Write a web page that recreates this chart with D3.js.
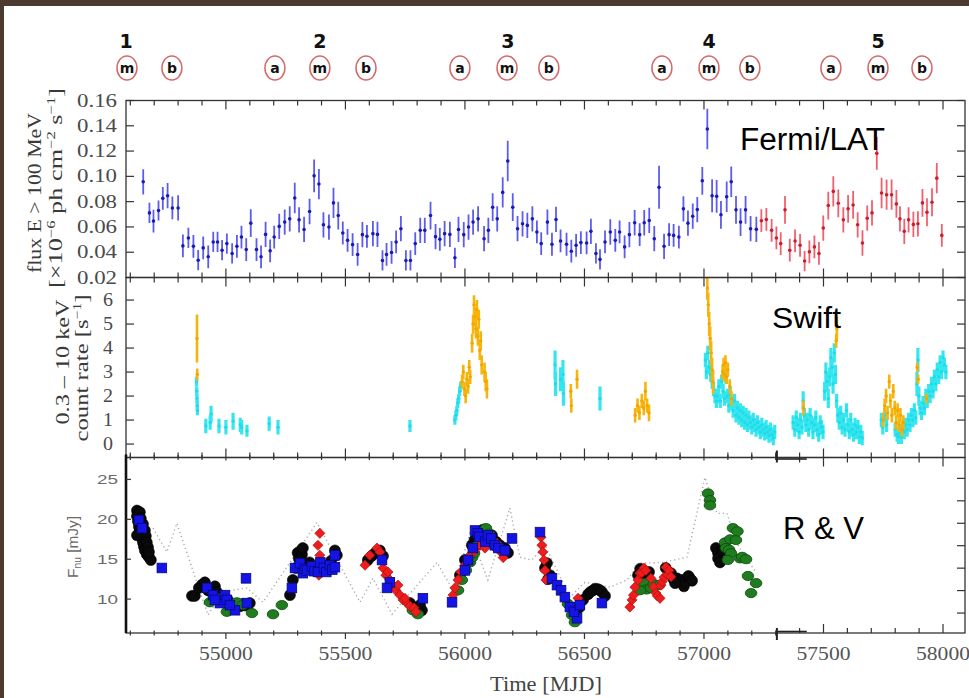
<!DOCTYPE html>
<html><head><meta charset="utf-8">
<script src="https://cdn.jsdelivr.net/npm/d3@7"></script>
<style>body{margin:0;background:#fff;} svg{display:block;}</style>
</head><body><svg id="c" width="969" height="698"></svg>
<script>
// ---------------- DATA ----------------
const epochs = [["1",54582],["2",55393],["3",56180],["4",57021],["5",57728]];
const phases = [["m",54586],["b",54774],["a",55205],["m",55393],["b",55586],["a",55979],["m",56176],["b",56351],["a",56824],["m",57021],["b",57192],["a",57531],["m",57728],["b",57912]];

const xTickLabels = [55000,55500,56000,56500,57000,57500,58000];
const fermiTicks = [0.02,0.04,0.06,0.08,0.10,0.12,0.14,0.16];
const swiftTicks = [0,1,2,3,4,5,6];
const optTicks = [10,15,20,25];
const optRightTicks = [1,2,3,4,5,6,7];

// Fermi/LAT flux [MJD, flux, err]
const fermiBlue = [
[54654,0.0957,0.010],[54680,0.0711,0.008],[54697,0.0646,0.009],[54718,0.0730,0.008],[54736,0.0826,0.009],
[54756,0.0847,0.010],[54776,0.0750,0.009],[54800,0.0750,0.010],[54820,0.0450,0.009],[54843,0.0513,0.008],
[54864,0.0447,0.009],[54884,0.0337,0.008],[54905,0.0434,0.009],[54926,0.0364,0.009],[54947,0.0481,0.008],
[54965,0.0481,0.008],[54984,0.0416,0.008],[55004,0.0468,0.008],[55026,0.0390,0.008],[55046,0.0447,0.009],
[55065,0.0520,0.009],[55085,0.0421,0.009],[55104,0.0630,0.011],[55128,0.0421,0.009],[55147,0.0364,0.009],
[55166,0.0541,0.010],[55185,0.0411,0.009],[55202,0.0520,0.009],[55223,0.0604,0.010],[55246,0.0638,0.010],
[55267,0.0664,0.010],[55288,0.0829,0.012],[55306,0.0656,0.010],[55327,0.0580,0.010],[55350,0.0722,0.010],
[55369,0.1004,0.013],[55389,0.0939,0.012],[55408,0.0617,0.010],[55431,0.0599,0.010],[55450,0.0790,0.012],
[55470,0.0690,0.011],[55489,0.0552,0.009],[55509,0.0494,0.009],[55530,0.0460,0.009],[55551,0.0382,0.009],
[55571,0.0539,0.010],[55590,0.0526,0.009],[55615,0.0547,0.010],[55634,0.0541,0.010],[55655,0.0335,0.008],
[55672,0.0382,0.009],[55693,0.0398,0.009],[55712,0.0481,0.009],[55732,0.0586,0.010],[55753,0.0335,0.008],
[55772,0.0335,0.008],[55792,0.0468,0.009],[55813,0.0573,0.010],[55832,0.0573,0.010],[55856,0.0690,0.011],
[55877,0.0523,0.010],[55895,0.0502,0.009],[55915,0.0547,0.010],[55937,0.0541,0.010],[55958,0.0356,0.008],
[55973,0.0580,0.010],[55995,0.0539,0.010],[56015,0.0599,0.010],[56034,0.0638,0.010],[56055,0.0664,0.010],
[56080,0.0507,0.010],[56098,0.0573,0.010],[56116,0.0756,0.011],[56135,0.0664,0.010],[56158,0.0873,0.012],
[56179,0.1122,0.016],[56200,0.0756,0.011],[56220,0.0586,0.010],[56241,0.0625,0.010],[56261,0.0612,0.010],
[56282,0.0664,0.010],[56301,0.0560,0.009],[56319,0.0468,0.009],[56345,0.0638,0.010],[56364,0.0463,0.009],
[56381,0.0659,0.010],[56400,0.0489,0.009],[56425,0.0463,0.009],[56445,0.0408,0.009],[56465,0.0455,0.009],
[56485,0.0476,0.009],[56509,0.0473,0.009],[56527,0.0565,0.010],[56548,0.0390,0.008],[56565,0.0343,0.008],
[56586,0.0481,0.009],[56608,0.0560,0.010],[56629,0.0494,0.009],[56647,0.0560,0.009],[56668,0.0442,0.009],
[56688,0.0539,0.010],[56710,0.0633,0.010],[56731,0.0539,0.009],[56750,0.0633,0.010],[56771,0.0651,0.010],
[56792,0.0507,0.010],[56812,0.0913,0.017],[56833,0.0447,0.010],[56854,0.0539,0.009],[56873,0.0533,0.009],
[56895,0.0520,0.009],[56914,0.0743,0.010],[56933,0.0630,0.010],[56953,0.0685,0.010],[56972,0.0737,0.010],
[56993,0.0965,0.011],[57014,0.1375,0.016],[57034,0.0847,0.013],[57053,0.0842,0.013],[57071,0.0696,0.011],
[57095,0.0839,0.012],[57114,0.0957,0.012],[57134,0.0735,0.011],[57153,0.0638,0.011],[57174,0.0735,0.011],
[57195,0.0586,0.010],[57219,0.0581,0.010]
];
const fermiRed = [
[57240,0.0649,0.009],[57261,0.0659,0.009],[57283,0.0573,0.009],[57303,0.0513,0.009],[57321,0.0468,0.009],
[57339,0.0735,0.011],[57359,0.0416,0.009],[57381,0.0489,0.009],[57402,0.0455,0.009],[57421,0.0330,0.008],
[57441,0.0403,0.009],[57462,0.0442,0.009],[57481,0.0390,0.009],[57499,0.0591,0.010],[57520,0.0769,0.011],
[57541,0.0881,0.012],[57562,0.0787,0.011],[57583,0.0656,0.010],[57603,0.0743,0.011],[57624,0.0774,0.011],
[57643,0.0617,0.010],[57663,0.0473,0.010],[57683,0.0669,0.010],[57703,0.0711,0.010],[57723,0.1182,0.013],
[57743,0.0868,0.012],[57764,0.0855,0.012],[57785,0.0855,0.012],[57805,0.0782,0.011],[57820,0.0664,0.010],
[57838,0.0565,0.010],[57856,0.0656,0.010],[57876,0.0620,0.010],[57895,0.0625,0.010],[57914,0.0790,0.011],
[57933,0.0716,0.011],[57954,0.0795,0.011],[57974,0.0986,0.012],[57995,0.0533,0.009]
];

// Swift XRT count rate [MJD, rate, err]
const swiftCyan = [
[54877,2.6,0.2],[54878,2.2,0.2],[54879,1.9,0.2],[54880,1.6,0.2],[54881,1.4,0.2],
[54916,0.75,0.3],[54934,0.9,0.3],[54938,1.25,0.35],[54971,0.75,0.3],[55000,0.7,0.3],[55030,0.95,0.35],
[55060,0.8,0.3],[55066,0.7,0.3],[55088,0.55,0.25],[55181,0.85,0.3],[55218,0.7,0.3],[55770,0.75,0.25],
[55958,1.0,0.2],[55962,1.2,0.2],[55966,1.4,0.2],[55970,1.7,0.2],[55974,1.9,0.2],[55978,2.2,0.2],[55982,2.4,0.2],
[56377,3.3,0.6],[56379,2.5,0.5],[56400,2.7,0.5],[56410,2.9,0.6],[56412,2.1,0.5],[56565,1.9,0.5],
[57006,3.5,0.3],[57010,3.0,0.3],[57016,3.8,0.3],[57022,3.2,0.3],[57028,2.9,0.3],[57034,2.6,0.3],[57040,2.3,0.3],
[57046,2.0,0.3],[57052,1.8,0.3],[57056,2.0,0.3],[57062,2.4,0.3],[57068,1.8,0.3],[57074,2.6,0.3],[57080,2.2,0.3],
[57086,1.9,0.3],[57092,2.8,0.3],[57098,2.0,0.3],[57104,1.6,0.3],[57110,2.1,0.3],[57116,1.7,0.3],[57122,1.4,0.3],
[57128,1.8,0.3],[57134,1.2,0.3],[57140,1.5,0.3],[57146,1.1,0.3],[57152,1.4,0.3],[57158,1.0,0.3],[57164,1.3,0.3],
[57170,0.9,0.3],[57176,1.2,0.3],[57182,0.8,0.3],[57188,1.1,0.3],[57194,0.9,0.3],[57200,0.7,0.3],[57206,1.0,0.3],
[57212,0.8,0.3],[57218,0.6,0.3],[57224,0.9,0.3],[57230,0.7,0.3],[57236,0.5,0.3],[57242,0.8,0.3],[57248,0.6,0.3],
[57254,0.45,0.3],[57260,0.7,0.3],[57266,0.5,0.3],[57272,0.35,0.3],[57278,0.6,0.3],[57284,0.4,0.3],[57290,0.25,0.3],
[57296,0.5,0.3],
[57373,0.9,0.3],[57380,0.6,0.3],[57386,1.1,0.3],[57392,0.8,0.3],[57398,0.5,0.3],[57404,1.0,0.3],[57410,0.7,0.3],
[57415,1.8,0.4],[57420,1.2,0.3],[57426,0.8,0.3],[57432,1.0,0.3],[57438,0.6,0.3],[57444,1.2,0.3],[57450,0.9,0.3],
[57456,0.5,0.3],[57462,0.8,0.3],[57468,1.1,0.3],[57474,0.6,0.3],[57480,0.4,0.3],[57486,0.9,0.3],[57492,0.7,0.3],
[57498,0.5,0.3],[57505,2.2,0.4],[57510,3.0,0.4],[57515,2.6,0.4],[57520,1.9,0.4],[57526,2.8,0.4],[57531,3.6,0.4],
[57536,3.2,0.4],[57540,2.5,0.4],[57545,3.8,0.4],[57550,2.9,0.4],[57555,1.8,0.3],[57560,1.2,0.3],[57566,0.9,0.3],
[57572,1.3,0.3],[57578,0.7,0.3],[57584,1.0,0.3],[57590,0.6,0.3],[57596,1.4,0.3],[57602,0.8,0.3],[57608,0.5,0.3],
[57614,1.0,0.3],[57620,0.6,0.3],[57626,0.4,0.3],[57632,0.8,0.3],[57638,0.5,0.3],[57644,0.7,0.3],[57650,0.3,0.3],
[57656,0.5,0.3],[57662,0.25,0.3],
[57742,1.0,0.3],[57748,0.7,0.3],[57756,1.2,0.3],[57764,0.8,0.3],[57800,0.6,0.3],[57808,0.4,0.3],[57814,0.3,0.3],
[57820,0.5,0.3],[57826,0.3,0.3],[57832,0.6,0.3],[57838,0.5,0.3],[57844,0.8,0.3],[57850,0.6,0.3],[57856,1.0,0.3],
[57862,0.8,0.3],[57868,1.2,0.3],[57874,1.0,0.3],[57880,1.4,0.3],[57886,1.1,0.3],[57891,2.5,0.5],[57895,3.5,0.5],
[57899,2.0,0.4],[57904,1.5,0.3],[57910,1.3,0.3],[57916,1.7,0.3],[57922,1.5,0.3],[57928,2.0,0.3],[57934,1.8,0.3],
[57940,2.2,0.3],[57946,2.0,0.3],[57952,2.5,0.3],[57958,2.2,0.3],[57964,2.8,0.3],[57970,2.5,0.3],[57976,3.1,0.3],
[57982,2.8,0.3],[57988,3.4,0.3],[57994,3.0,0.3],[58000,3.6,0.3],[58006,3.3,0.3],[58012,3.0,0.3]
];
const swiftOrange = [
[54879,4.4,1.0],[54880,2.9,0.25],
[55988,2.6,0.3],[55993,3.0,0.3],[55998,2.3,0.3],[56003,2.0,0.3],[56008,2.7,0.3],[56013,2.4,0.3],[56018,3.2,0.3],
[56022,2.8,0.3],[56030,4.2,0.4],[56034,5.0,0.4],[56038,5.8,0.4],[56042,5.3,0.4],[56046,4.8,0.4],[56050,5.6,0.4],
[56054,4.5,0.4],[56058,5.2,0.4],[56062,3.9,0.4],[56066,4.3,0.4],[56070,3.3,0.4],[56082,3.0,0.4],[56087,2.6,0.4],
[56092,2.3,0.4],
[56443,2.2,0.3],[56445,1.6,0.3],[56469,2.7,0.4],
[56712,1.2,0.3],[56722,1.6,0.3],[56730,1.3,0.3],[56740,1.8,0.3],[56748,1.5,0.3],[56755,2.2,0.4],[56762,1.6,0.3],
[56770,1.3,0.35],
[57010,7.5,0.6],[57014,6.5,0.5],[57018,5.8,0.5],[57022,5.0,0.5],[57026,4.4,0.5],[57030,3.8,0.5],[57034,3.1,0.5],
[57038,2.6,0.5],
[57078,3.0,0.3],[57082,3.3,0.3],[57086,2.9,0.3],[57090,3.4,0.3],[57095,2.8,0.3],[57100,3.1,0.3],[57108,2.4,0.3],
[57115,1.9,0.3],
[57416,1.5,0.3],[57553,4.3,0.3],[57556,4.8,0.5],
[57750,1.0,0.3],[57756,1.6,0.3],[57762,2.0,0.3],[57768,1.3,0.3],[57775,2.6,0.3],[57780,1.8,0.3],[57786,1.2,0.3],
[57792,2.2,0.3],[57798,1.5,0.3],[57804,0.9,0.3],[57810,1.4,0.3],[57816,0.8,0.3],[57822,1.2,0.3],[57828,0.6,0.3],
[57834,0.9,0.3],[57892,3.2,0.2],[57896,2.7,0.2],[57931,1.9,0.2]
];

// Optical R & V flux density [MJD, mJy]
const rvBlack = [
[54628,21.1],[54628,20.4],[54632,19.75],[54636,19.1],[54640,18.6],[54644,18.1],[54649,17.6],[54653,17.1],
[54657,16.6],[54661,16.1],[54669,15.6],[54678,15.25],[54686,14.9],[54640,20.9],[54644,20.1],[54653,19.4],
[54661,18.6],[54665,17.9],[54669,17.1],[54674,16.5],[54678,15.9],[54628,18.0],
[54858,10.4],[54870,10.4],[54887,11.4],[54900,11.8],[54912,12.1],[54925,11.1],[54935,11.0],[54954,11.6],
[54962,10.9],[54979,10.4],[54990,10.0],[55008,9.9],[55025,9.25],[55040,9.3],[55059,9.1],[55071,9.4],
[55080,9.2],[55100,9.5],
[55268,10.5],[55280,12.4],[55293,13.9],[55300,15.8],[55305,15.1],[55314,16.1],[55318,15.6],[55322,16.4],
[55310,14.9],[55330,14.2],[55350,14.6],[55400,14.2],[55440,14.8],[55456,16.1],[55464,15.5],
[55594,14.9],[55610,15.4],[55623,15.75],[55635,15.9],[55644,16.1],[55657,15.4],[55770,9.5],[55791,8.9],
[55800,8.8],[55820,8.6],[55812,9.25],
[55979,13.0],[56000,14.9],[56029,16.75],[56040,17.4],[56063,18.4],[56075,18.7],[56092,18.4],[56100,17.8],
[56113,18.0],[56130,17.2],[56146,16.75],[56160,16.0],[56167,16.4],[56180,15.8],
[56335,13.9],[56343,14.5],[56348,12.5],[56356,13.0],[56494,9.9],[56515,10.6],[56525,10.9],[56536,11.1],
[56545,11.3],[56556,11.25],[56565,11.1],[56573,10.9],[56586,10.4],[56477,8.9],
[56724,13.0],[56733,13.8],[56745,13.6],[56760,13.0],[56770,13.4],[56840,13.9],[56862,13.25],[56870,12.6],
[56887,12.6],[56895,12.2],[56908,12.4],[56925,12.4],[56935,12.9],[56941,12.6],[56950,12.3],[56916,11.6],
[56879,12.0],
[57050,16.4],[57059,15.75],[57059,15.1],[57067,14.6],[57080,16.1]
];
const rvGreen = [
[54933,9.6],[55004,8.4],[55046,9.6],[55109,8.25],[55197,8.1],[55234,9.25],[55071,9.25],[54967,10.1],
[55782,8.6],[55803,8.1],
[55971,11.1],[55987,12.4],[56004,13.6],[56021,14.6],[56030,15.2],[56038,15.75],[56054,16.75],[56062,17.0],
[56071,17.6],[56088,18.9],[56100,18.2],[56113,17.0],[56130,16.8],[56146,16.4],
[56460,7.1],[56448,8.0],[56431,9.4],
[56749,12.0],[56760,11.2],[56778,11.4],[56790,11.9],[56732,11.1],[56812,11.75],
[57017,23.25],[57025,22.4],[57025,21.75],[57088,17.1],[57092,16.4],[57105,16.2],[57110,17.5],[57121,18.9],
[57134,17.4],[57140,18.5],[57113,15.75],[57151,15.1],[57160,15.3],[57176,15.0],[57184,12.9],[57218,12.0],
[57197,10.75],[57100,14.9]
];
const rvRed = [
[55393,18.25],[55385,16.75],[55393,15.5],[55402,14.6],[55377,14.25],[55418,14.0],[55389,13.0],
[55582,14.25],[55602,15.5],[55632,16.4],[55644,15.9],[55657,13.9],[55669,13.0],[55686,12.4],[55699,11.75],
[55711,11.1],[55728,10.5],[55741,9.9],[55757,9.5],[55770,9.1],[55787,8.9],[55795,8.4],[55678,13.4],[55720,11.75],
[55749,10.1],
[55950,10.5],[55958,11.4],[55971,12.4],[55983,13.4],[56000,14.25],[56021,15.5],[56040,16.0],[56063,16.75],
[56084,16.4],[56095,17.9],[56105,17.4],[56120,16.6],[56134,17.0],[56145,16.3],[56155,15.75],[56160,15.2],
[56318,17.75],[56322,16.75],[56326,15.9],[56331,14.9],[56335,13.6],[56339,12.4],[56481,9.5],[56473,10.1],
[56690,9.0],[56699,9.9],[56705,10.5],[56711,11.5],[56724,12.4],[56732,13.25],[56740,13.3],[56749,13.9],
[56757,13.6],[56778,12.6],[56790,11.5],[56799,10.75],[56805,10.4],[56816,10.1],[56820,11.75],[56825,12.2],
[56833,12.75],[56841,14.0],[56848,13.0],[56854,13.6],[56862,12.8]
];
const rvBlue = [
[54636,19.9],[54649,18.9],[54732,13.9],
[54921,11.4],[54946,10.5],[54975,9.5],[54996,10.5],[55004,9.9],[55038,8.6],[55084,12.6],[55088,9.5],[54954,9.9],[55017,9.25],
[55276,11.4],[55289,13.9],[55310,14.5],[55322,13.25],[55330,13.8],[55339,13.6],[55360,14.1],[55370,13.5],
[55385,13.4],[55395,14.6],[55410,13.9],[55420,13.4],[55435,14.25],[55445,13.7],[55456,15.5],[55456,14.0],
[55653,14.9],[55686,12.1],[55674,11.4],[55824,10.1],
[55946,9.6],[56000,13.6],[56013,14.9],[56033,16.4],[56042,18.6],[56054,18.25],[56060,17.8],[56085,17.2],
[56096,18.0],[56110,17.6],[56125,16.75],[56140,16.4],[56167,16.1],[56197,17.6],
[56314,18.4],[56364,12.6],[56385,11.75],[56402,11.1],[56418,10.25],[56439,9.0],[56469,7.6],[56456,8.4],
[56481,9.25],[56573,9.5]
];
const rvModel = [
[54695,18.9],[54753,15.9],[54795,19.5],[54925,8.0],[54987,10.9],[55088,11.4],[55155,9.6],[55381,19.6],
[55561,9.6],[55615,12.6],[55695,8.1],[55883,14.6],[55950,11.1],[56021,18.25],[56096,12.4],[56188,21.4],
[56230,15.25],[56280,14.9],[56335,16.75],[56439,10.25],[56502,12.1],[56607,11.5],[56678,12.4],[56732,14.5],
[56828,14.6],[56929,15.25],[57004,25.25],[57054,20.75],[57096,20.75],[57138,17.0],[57180,14.9],[57222,13.25]
];

// ---------------- LAYOUT ----------------
const L = 126, R = 965;
const P1 = [100.5, 277.5], P2 = [277.5, 457.5], P3 = [457.5, 633];
const svg = d3.select("#c");
svg.append("rect").attr("width",969).attr("height",698).attr("fill","#4b3a2d");
svg.append("rect").attr("x",4).attr("y",6).attr("width",965).attr("height",692).attr("fill","#fff");

const x = d3.scaleLinear().domain([54582,58092]).range([L,R]);
const y1 = d3.scaleLinear().domain([0.02,0.16]).range([P1[1],P1[0]]);
const y2 = d3.scaleLinear().domain([-0.56,6.94]).range([P2[1],P2[0]]);
const y3 = d3.scaleLinear().domain([5.75,27.75]).range([P3[1],P3[0]]);
const y3r = d3.scaleLinear().domain([0.11,7.93]).range([P3[1],P3[0]]);

const defs = svg.append("defs");
[[1,P1],[2,P2],[3,P3]].forEach(([i,p])=>{
  defs.append("clipPath").attr("id","clip"+i).append("rect")
    .attr("x",L).attr("y",p[0]).attr("width",R-L).attr("height",p[1]-p[0]);
});

const serif = "'Liberation Serif','DejaVu Serif',serif";
const sans = "'Liberation Sans',Arial,sans-serif";

// ---------------- PANEL 1: Fermi ----------------
function errPlot(data, ys, clip, barCol, dotCol, bw, r){
  const g = svg.append("g").attr("clip-path",`url(#${clip})`);
  g.selectAll("line").data(data).join("line")
    .attr("x1",d=>x(d[0])).attr("x2",d=>x(d[0]))
    .attr("y1",d=>ys(d[1]-d[2])).attr("y2",d=>ys(d[1]+d[2]))
    .attr("stroke",barCol).attr("stroke-width",bw);
  g.selectAll("circle").data(data).join("circle")
    .attr("cx",d=>x(d[0])).attr("cy",d=>ys(d[1])).attr("r",r).attr("fill",dotCol);
}
errPlot(fermiBlue, y1, "clip1", "#5c5cf0", "#1a1ab8", 1.8, 1.8);
errPlot(fermiRed, y1, "clip1", "#f0606e", "#d01c2c", 1.8, 1.8);

// ---------------- PANEL 2: Swift ----------------
errPlot(swiftCyan, y2, "clip2", "#34e6f0", "#22dbe8", 3.2, 1.7);
errPlot(swiftOrange, y2, "clip2", "#f7b40a", "#f0a800", 2.6, 1.7);

// ---------------- PANEL 3: R & V ----------------
const g3 = svg.append("g").attr("clip-path","url(#clip3)");
g3.append("path").datum(rvModel)
  .attr("d", d3.line().x(d=>x(d[0])).y(d=>y3(d[1])))
  .attr("fill","none").attr("stroke","#a8a8a8").attr("stroke-width",1.4)
  .attr("stroke-dasharray","1.2,3");
g3.selectAll(".bk").data(rvBlack).join("circle").attr("class","bk")
  .attr("cx",d=>x(d[0])).attr("cy",d=>y3(d[1])).attr("r",5.5)
  .attr("fill","#0a0a0a").attr("stroke","#000").attr("stroke-width",0.6);
g3.selectAll(".gr").data(rvGreen).join("ellipse").attr("class","gr")
  .attr("cx",d=>x(d[0])).attr("cy",d=>y3(d[1])).attr("rx",5.8).attr("ry",4.6)
  .attr("fill","#1f7d1f").attr("stroke","#0c4a0c").attr("stroke-width",0.8);
g3.selectAll(".rd").data(rvRed).join("rect").attr("class","rd")
  .attr("transform",d=>`translate(${x(d[0])},${y3(d[1])}) rotate(45)`)
  .attr("x",-3.6).attr("y",-3.6).attr("width",7.2).attr("height",7.2)
  .attr("fill","#ee1c1c").attr("stroke","#a01010").attr("stroke-width",0.6);
g3.selectAll(".bl").data(rvBlue).join("rect").attr("class","bl")
  .attr("x",d=>x(d[0])-4.8).attr("y",d=>y3(d[1])-4.8).attr("width",9.6).attr("height",9.6)
  .attr("fill","#1414e6").attr("stroke","#08087a").attr("stroke-width",0.8);

// ---------------- FRAMES & AXES ----------------
[P1,P2,P3].forEach(p=>{
  svg.append("rect").attr("x",L).attr("y",p[0]).attr("width",R-L).attr("height",p[1]-p[0])
    .attr("fill","none").attr("stroke","#333").attr("stroke-width",1.3);
});
svg.append("line").attr("x1",L).attr("x2",L).attr("y1",P3[0]-3).attr("y2",P3[1])
  .attr("stroke","#111").attr("stroke-width",2.6);

const minorX = d3.range(54600, 58100, 100);
function xTickMarks(yPos, dir, filterFn, minLen, majLen, cross){
  const vals = minorX.filter(filterFn);
  svg.append("g").selectAll("line").data(vals).join("line")
    .attr("x1",d=>x(d)).attr("x2",d=>x(d))
    .attr("y1",d=> cross ? yPos - (d%500===0?0:2.5) : yPos)
    .attr("y2",d=> yPos + dir*(d%500===0?majLen:minLen))
    .attr("stroke","#333").attr("stroke-width",1.2);
}
const all = ()=>true;
xTickMarks(P1[0], 1, all, 5, 9, false);
xTickMarks(P1[1], -1, all, 5, 9, false);
xTickMarks(P2[0], 1, all, 5, 9, false);
xTickMarks(P2[1], -1, all, 5, 9, false);
xTickMarks(P3[0], 1, d=>d<57305, 2.5, 3, true);
xTickMarks(P3[1], 1, d=>d<57305, 2.5, 6, true);
xTickMarks(P3[0], 1, d=>d>57305, 5, 9, false);
xTickMarks(P3[1], -1, d=>d>57305, 5, 9, false);
[[P2[1],-1],[P3[1],1]].forEach(([yy,s])=>{
  svg.append("line").attr("x1",x(57305)).attr("x2",x(57305)).attr("y1",yy-5*s).attr("y2",yy+7*s)
    .attr("stroke","#222").attr("stroke-width",2);
  svg.append("line").attr("x1",x(57305)).attr("x2",x(57430)).attr("y1",yy-1.5*s).attr("y2",yy-1.5*s)
    .attr("stroke","#222").attr("stroke-width",1.6);
});

function yTickMarks(ys, vals, len){
  const g = svg.append("g");
  g.selectAll(".l").data(vals).join("line").attr("class","l")
    .attr("x1",L).attr("x2",L+len).attr("y1",d=>ys(d)).attr("y2",d=>ys(d))
    .attr("stroke","#333").attr("stroke-width",1.2);
  g.selectAll(".r").data(vals).join("line").attr("class","r")
    .attr("x1",R).attr("x2",R-len).attr("y1",d=>ys(d)).attr("y2",d=>ys(d))
    .attr("stroke","#333").attr("stroke-width",1.2);
}
yTickMarks(y1, fermiTicks, 8);
yTickMarks(y2, swiftTicks, 8);
svg.append("g").selectAll("line").data(optTicks).join("line")
  .attr("x1",L).attr("x2",L+5).attr("y1",d=>y3(d)).attr("y2",d=>y3(d))
  .attr("stroke","#333").attr("stroke-width",1.2);
svg.append("g").selectAll("line").data(optRightTicks).join("line")
  .attr("x1",R).attr("x2",R-8).attr("y1",d=>y3r(d)).attr("y2",d=>y3r(d))
  .attr("stroke","#333").attr("stroke-width",1.2);

// tick labels
svg.append("g").selectAll("text").data(fermiTicks).join("text")
  .attr("x",117).attr("y",d=>y1(d)+6).attr("text-anchor","end")
  .attr("font-family",serif).attr("font-size",18).attr("fill","#4a4a4a")
  .attr("textLength",40).attr("lengthAdjust","spacingAndGlyphs")
  .text(d=>d3.format(".2f")(d));
svg.append("g").selectAll("text").data(swiftTicks).join("text")
  .attr("x",113).attr("y",d=>y2(d)+6).attr("text-anchor","end")
  .attr("font-family",serif).attr("font-size",18).attr("fill","#4a4a4a")
  .attr("textLength",10).attr("lengthAdjust","spacingAndGlyphs")
  .text(d=>d);
svg.append("g").selectAll("text").data(optTicks).join("text")
  .attr("x",118).attr("y",d=>y3(d)+4.5).attr("text-anchor","end")
  .attr("font-family",sans).attr("font-size",13).attr("fill","#6a6a6a")
  .attr("textLength",21).attr("lengthAdjust","spacingAndGlyphs")
  .text(d=>d);
svg.append("g").selectAll("text").data(xTickLabels).join("text")
  .attr("x",d=>x(d)).attr("y",660).attr("text-anchor","middle")
  .attr("font-family",serif).attr("font-size",19).attr("fill","#555")
  .attr("textLength",54).attr("lengthAdjust","spacingAndGlyphs")
  .text(d=>d);
svg.append("text").attr("x",546).attr("y",691).attr("text-anchor","middle")
  .attr("font-family",serif).attr("font-size",20).attr("fill","#444")
  .attr("textLength",112).attr("lengthAdjust","spacingAndGlyphs")
  .text("Time [MJD]");

// y labels
function vlabel(cx, cy, len, size, fam, col, parts){
  const t = svg.append("text").attr("transform",`translate(${cx},${cy}) rotate(-90)`)
    .attr("text-anchor","middle").attr("font-family",fam).attr("font-size",size).attr("fill",col)
    .attr("textLength",len).attr("lengthAdjust","spacingAndGlyphs");
  parts.forEach(([s,dy,fs])=>{
    const ts = t.append("tspan").text(s);
    if(dy) ts.attr("dy",dy);
    if(fs) ts.attr("font-size",fs);
  });
}
vlabel(41,193,160,19,serif,"#3a3a3a",[["flux E > 100 MeV"]]);
vlabel(62,188,200,19,serif,"#3a3a3a",[["[×10"],["−6",-7,12],[" ph cm",7],["−2",-7,12],[" s",7],["−1",-7,12],["]",7]]);
vlabel(69,362,125,19,serif,"#3a3a3a",[["0.3 – 10 keV"]]);
vlabel(88,368,147,19,serif,"#3a3a3a",[["count rate [s"],["−1",-7,12],["]",7]]);
vlabel(78,547,62,15,sans,"#6a6a6a",[["F"],["nu",3,10],[" [mJy]",-3]]);

// panel names
svg.append("text").attr("x",740).attr("y",150).attr("font-family",sans).attr("font-size",31).attr("fill","#000")
  .attr("textLength",145).attr("lengthAdjust","spacingAndGlyphs").text("Fermi/LAT");
svg.append("text").attr("x",772).attr("y",328).attr("font-family",sans).attr("font-size",29).attr("fill","#000")
  .attr("textLength",69).attr("lengthAdjust","spacingAndGlyphs").text("Swift");
svg.append("text").attr("x",783).attr("y",539).attr("font-family",sans).attr("font-size",31).attr("fill","#000")
  .attr("textLength",81).attr("lengthAdjust","spacingAndGlyphs").text("R & V");

// epoch labels
const dv = "'DejaVu Sans',Verdana,sans-serif";
svg.append("g").selectAll("text").data(epochs).join("text")
  .attr("x",d=>x(d[1])).attr("y",48).attr("text-anchor","middle")
  .attr("font-family",dv).attr("font-weight","bold").attr("font-size",19).attr("fill","#111")
  .text(d=>d[0]);
const ph = svg.append("g").selectAll("g").data(phases).join("g")
  .attr("transform",d=>`translate(${x(d[1])},68)`);
ph.append("ellipse").attr("rx",10).attr("ry",12).attr("fill","#fff")
  .attr("stroke","#d46a6a").attr("stroke-width",1.5);
ph.append("text").attr("y",5).attr("text-anchor","middle")
  .attr("font-family",dv).attr("font-weight","bold").attr("font-size",14).attr("fill","#111")
  .text(d=>d[0]);
</script></body></html>
